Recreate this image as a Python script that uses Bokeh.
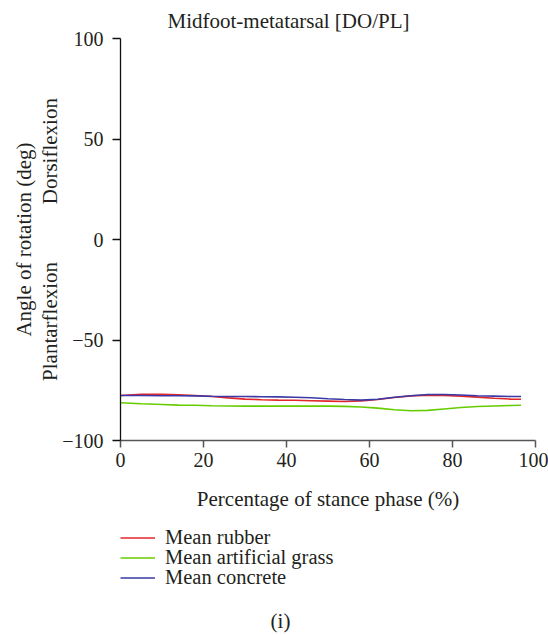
from bokeh.plotting import figure
from bokeh.models import Range1d, Legend, LegendItem, FixedTicker, Label
from bokeh.layouts import column
from bokeh.embed import file_html
from bokeh.resources import INLINE

# ---- data ----
stance_pct = [0, 5, 10, 14, 18, 22, 26, 30, 34, 38, 42, 46, 50, 54, 58, 62,
              66, 70, 74, 78, 82, 86, 90, 94, 96.5]
mean_rubber = [-77.6, -77.0, -77.0, -77.3, -77.6, -78.1, -78.8, -79.4, -79.7,
               -79.9, -80.0, -80.2, -80.4, -80.6, -80.3, -79.6, -78.6, -77.8,
               -77.5, -77.6, -77.9, -78.4, -79.0, -79.4, -79.5]
mean_grass = [-81.2, -81.7, -82.1, -82.4, -82.5, -82.7, -82.8, -82.9, -82.9,
              -82.9, -82.9, -82.8, -82.9, -83.0, -83.3, -83.9, -84.7, -85.2,
              -85.0, -84.3, -83.6, -83.1, -82.8, -82.6, -82.5]
mean_concrete = [-77.6, -77.6, -77.7, -77.7, -77.8, -78.0, -78.1, -78.1, -78.2,
                 -78.3, -78.5, -78.7, -79.2, -79.6, -79.9, -79.5, -78.5, -77.7,
                 -77.1, -77.1, -77.4, -77.7, -77.9, -78.1, -78.1]
series_names = ["Mean rubber", "Mean artificial grass", "Mean concrete"]
x_ticks = [0, 20, 40, 60, 80, 100]
y_ticks = [-100, -50, 0, 50, 100]
series = [mean_rubber, mean_grass, mean_concrete]

colors = ["#e2262b", "#66cc00", "#3a3aa6"]
FONT = "Liberation Serif"
TXT = "#231f20"
NB = "\u00a0"

# ---------------- main chart ----------------
p = figure(width=548, height=515, frame_width=415, frame_height=402,
           min_border_left=120, min_border_right=13, min_border_top=38,
           min_border_bottom=75, x_range=Range1d(0, 100), y_range=Range1d(-100, 100),
           output_backend="svg", toolbar_location=None, tools="")
p.outline_line_color = None
p.grid.visible = False
p.background_fill_color = "white"
p.border_fill_color = "white"

p.title.text = "Midfoot-metatarsal [DO/PL]"
p.title.align = "left"
p.title.offset = 47
p.title.standoff = 12
p.title.text_font = FONT
p.title.text_font_size = "21px"
p.title.text_font_style = "normal"
p.title.text_color = TXT

p.xaxis.ticker = FixedTicker(ticks=x_ticks)
p.yaxis.ticker = FixedTicker(ticks=y_ticks)
p.xaxis.minor_tick_line_color = None
p.yaxis.minor_tick_line_color = None
p.xaxis.axis_line_color = "#555555"
p.xaxis.major_tick_line_color = "#555555"
p.xaxis.axis_line_width = 1.5
p.xaxis.major_tick_line_width = 1.5
p.yaxis.axis_line_color = "#111111"
p.yaxis.major_tick_line_color = "#111111"
p.yaxis.axis_line_width = 1.3
p.yaxis.major_tick_line_width = 1.3
p.xaxis.major_tick_in = 0
p.xaxis.major_tick_out = 7
p.yaxis.major_tick_in = 0
p.yaxis.major_tick_out = 8
for ax in (p.xaxis, p.yaxis):
    ax.major_label_text_font = FONT
    ax.major_label_text_font_size = "20px"
    ax.major_label_text_color = TXT
    ax.axis_label_text_font = FONT
    ax.axis_label_text_font_size = "21px"
    ax.axis_label_text_font_style = "normal"
    ax.axis_label_text_color = TXT
p.xaxis.major_label_standoff = 5
p.yaxis.major_label_standoff = 9
p.yaxis.major_label_overrides = {t: (str(t).replace("-", "\u2212")) for t in y_ticks}

p.xaxis.axis_label = "Percentage of stance phase (%)"
p.xaxis.axis_label_standoff = 17
p.yaxis.axis_label = ("Angle of rotation (deg)\n"
                      "Plantarflexion" + NB * 11 + "Dorsiflexion")
p.yaxis.axis_label_standoff = -3
p.yaxis.axis_label_text_line_height = 1.1

for ys, c in zip(series, colors):
    p.line(stance_pct, ys, line_color=c, line_width=1.6)

# ---------------- legend strip (pixel-like coordinates) ----------------
q = figure(width=548, height=120, frame_width=415, frame_height=120,
           min_border_left=120, min_border_right=13, min_border_top=0,
           min_border_bottom=0, x_range=Range1d(120, 535),
           y_range=Range1d(120, 0), output_backend="svg", toolbar_location=None,
           tools="")
q.axis.visible = False
q.grid.visible = False
q.outline_line_color = None
q.background_fill_color = "white"
q.border_fill_color = "white"

# legend keys: same series, lying outside this strip's view
keys = [q.line(stance_pct, ys, line_color=c, line_width=1.6) for ys, c in zip(series, colors)]

row_offsets = [85.5, 65.5, 45.5]
for n, r, vy in zip(series_names, keys, row_offsets):
    lg = Legend(items=[LegendItem(label=n, renderers=[r])], location=(0, vy),
                orientation="vertical")
    lg.border_line_color = None
    lg.background_fill_alpha = 0
    lg.label_text_font = FONT
    lg.label_text_font_size = "20.5px"
    lg.label_text_color = TXT
    lg.glyph_width = 35
    lg.glyph_height = 25
    lg.label_height = 25
    lg.label_standoff = 10
    lg.spacing = 0
    lg.padding = 0
    lg.margin = 0
    q.add_layout(lg, "center")

q.add_layout(Label(x=280, y=105, text="(i)", text_font=FONT, text_font_size="21px",
                   text_color=TXT, text_align="center", text_baseline="middle"))

layout = column(p, q, spacing=0)
open("out.html", "w").write(file_html(layout, INLINE))
